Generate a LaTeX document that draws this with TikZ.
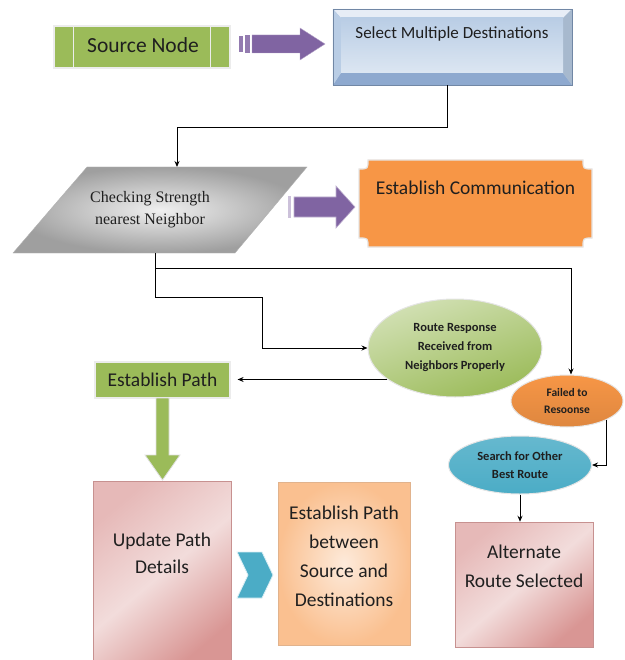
\documentclass[tikz,border=0pt]{standalone}
\usepackage{fontspec}
\setmainfont{Carlito}
\newfontfamily\timesfont{Liberation Serif}
\usetikzlibrary{shapes.geometric,arrows.meta,calc}
\definecolor{olive}{HTML}{9BBB59}
\definecolor{purp}{HTML}{8064A2}
\definecolor{orng}{HTML}{F79646}
\definecolor{skyb}{HTML}{4BACC6}
\definecolor{bluelt}{HTML}{DCE6F2}
\definecolor{bluemd}{HTML}{B9CDE5}
\definecolor{bluedk}{HTML}{8EA9CF}
\definecolor{pinklt}{HTML}{F2DCDB}
\definecolor{pinkmd}{HTML}{E6B9B8}
\definecolor{pinkdk}{HTML}{D99694}
\definecolor{peachlt}{HTML}{FDEADA}
\definecolor{peachdk}{HTML}{FAC090}
\definecolor{txt}{HTML}{1F1F1F}
\newcommand{\fs}[2]{\fontsize{#1}{#2}\selectfont}
\begin{document}
\begin{tikzpicture}[x=1pt,y=-1pt,
  conn/.style={draw=black,line width=0.9pt,-{Stealth[length=6pt,width=5pt]}},
  greenbox/.style={rectangle,fill=olive,draw=white!85!gray,line width=1.2pt,inner sep=0pt,text=txt},
  pinkbox/.style={rectangle,draw=pinkdk!80!gray,line width=0.5pt,left color=pinkmd,right color=pinkdk,middle color=pinklt,shading angle=40,inner sep=0pt},
  lbl/.style={text=txt,align=center,inner sep=0pt},
  ell/.style={ellipse,inner sep=0pt,draw=white!80!gray,line width=1pt,text=txt,align=center}
]
\useasboundingbox (0,0) rectangle (624,660);

% Source node
\node[greenbox,minimum width=176pt,minimum height=42pt] (src) at (142,47) {};
\draw[white!85!gray,line width=1.2pt] ($(src.north west)+(20,0)$) -- ($(src.south west)+(20,0)$);
\draw[white!85!gray,line width=1.2pt] ($(src.north east)+(-20,0)$) -- ($(src.south east)+(-20,0)$);
\node[lbl,font={\fs{21.5}{24}}] (srct) at (143,45) {Source Node};

% purple arrow 1
\fill[purp!85] (239,36) rectangle (243,52);
\fill[purp!85] (245,35) rectangle (250,53);
\fill[purp, draw=purp!60!white, line width=0.4pt] (252,35) -- (300,35) -- (300,28) -- (325,44) -- (300,60) -- (300,53) -- (252,53) -- cycle;

% Select box (bevel)
\node[rectangle,minimum width=239pt,minimum height=76pt,inner sep=0pt,fill=bluemd] (sel) at (452.5,47) {};
\fill[bluelt!70!white] (sel.north west) -- (sel.north east) -- (563,18) -- (341,18) -- cycle;
\fill[bluedk] (sel.south west) -- (sel.south east) -- (563,73) -- (341,73) -- cycle;
\fill[bluemd!90!black] (sel.north east) -- (sel.south east) -- (563,73) -- (563,18) -- cycle;
\fill[bluemd] (sel.north west) -- (sel.south west) -- (341,73) -- (341,18) -- cycle;
\shade[top color=bluemd,bottom color=bluelt] (341,18) rectangle (563,73);
\draw[bluedk!80!black,line width=0.4pt] (sel.north west) rectangle (sel.south east);
\node[lbl,font={\fs{17}{20}}] (selt) at (452,34) {Select Multiple Destinations};

% connector select -> checking
\coordinate (chkTop) at (177,167);
\draw[conn] ([xshift=-5.5pt]sel.south) -- ++(0,42) -| (chkTop);

% Parallelogram
\shade[inner color=gray!12,outer color=gray!75,draw=gray!60,line width=0.4pt]
  (87,167) -- (307,167) -- (235,253) -- (13,253) -- cycle;
\node[lbl,font={\timesfont\fs{16}{22}}] (chk) at (150,210) {Checking Strength\\nearest Neighbor};

% purple arrow 2
\fill[purp!40] (288,196) rectangle (291,218);
\fill[purp, draw=purp!50!white, line width=0.6pt] (294,197) -- (336,197) -- (336,186) -- (355,207) -- (336,228) -- (336,217) -- (294,217) -- cycle;

% Establish communication plaque
\path[fill=orng,draw=white!80!gray,line width=1.2pt]
  (368,160) -- (583,160) .. controls (583,169) .. (592,169) -- (592,238) .. controls (583,238) .. (583,247)
  -- (368,247) .. controls (368,238) .. (359,238) -- (359,169) .. controls (368,169) .. (368,160) -- cycle;
\node[lbl,font={\fs{19.5}{22}}] (ect) at (475.5,188) {Establish Communication};

% connectors from checking
\coordinate (chkBot) at (155,253);
\coordinate (j1) at (262,297);
\coordinate (br) at (155,268);

% Route ellipse
\node[ell,minimum width=174pt,minimum height=98pt,top color=olive!45!white,bottom color=olive,shading angle=20,font={\bfseries\fs{12.5}{19}}] (route) at (455,348)
  {Route Response\\Received from\\Neighbors Properly};

% Failed ellipse
\node[ell,minimum width=112pt,minimum height=52pt,top color=orng,bottom color=orng!90!black,font={\bfseries\fs{11.5}{17}}] (failed) at (567,401)
  {Failed to\\Resoonse};

% Search ellipse
\node[ell,minimum width=143pt,minimum height=58pt,top color=skyb!85!white,bottom color=skyb,font={\bfseries\fs{12.5}{18}}] (search) at (520,465)
  {Search for Other\\Best Route};

\draw[line width=0.9pt] (chkBot) |- (j1);
\draw[conn] (j1) |- (route.west);
\draw[conn] (br) -| ([xshift=4pt]failed.north);

% Establish path
\node[greenbox,minimum width=135pt,minimum height=36pt,font={\fs{19.5}{22}}] (epath) at (162.5,380) {Establish Path};
\draw[conn] (route.205) -- ([xshift=7pt]route.205 -| epath.east);

% failed -> search
\draw[conn] (failed.334) |- (search.east);

% Alternate route
\node[pinkbox,minimum width=138pt,minimum height=125pt] (alt) at (524,584.5) {};
\node[lbl,font={\fs{19.5}{29}}] (altt) at (524,566.5) {Alternate\\Route Selected};
\draw[conn] (search.south) -- (search.south |- alt.north);

% Update path box
\node[pinkbox,minimum width=138pt,minimum height=185pt] (upd) at (162,573.5) {};
\node[lbl,font={\fs{19.5}{27}}] (updt) at (162,553) {Update Path\\Details};

% green down arrow
\path[fill=olive,draw=white!75!gray,line width=0.8pt]
  (156,398) -- (169,398) -- (169,455) -- (180,455) -- (162.5,480) -- (145,455) -- (156,455) -- cycle;

% Peach box
\node[rectangle,minimum width=132pt,minimum height=163pt,inner sep=0pt,inner color=peachlt,outer color=peachdk,draw=peachdk!80!gray,line width=0.4pt] (peach) at (344,563.5) {};
\node[lbl,font={\fs{19.5}{29}}] (peacht) at (344,556) {Establish Path\\between\\Source and\\Destinations};

% chevron
\path[fill=skyb,draw=white!80!skyb,line width=0.8pt]
  (237,552) -- (262,552) -- (273,575) -- (262,598) -- (237,598) -- (248,575) -- cycle;
\end{tikzpicture}
\end{document}
